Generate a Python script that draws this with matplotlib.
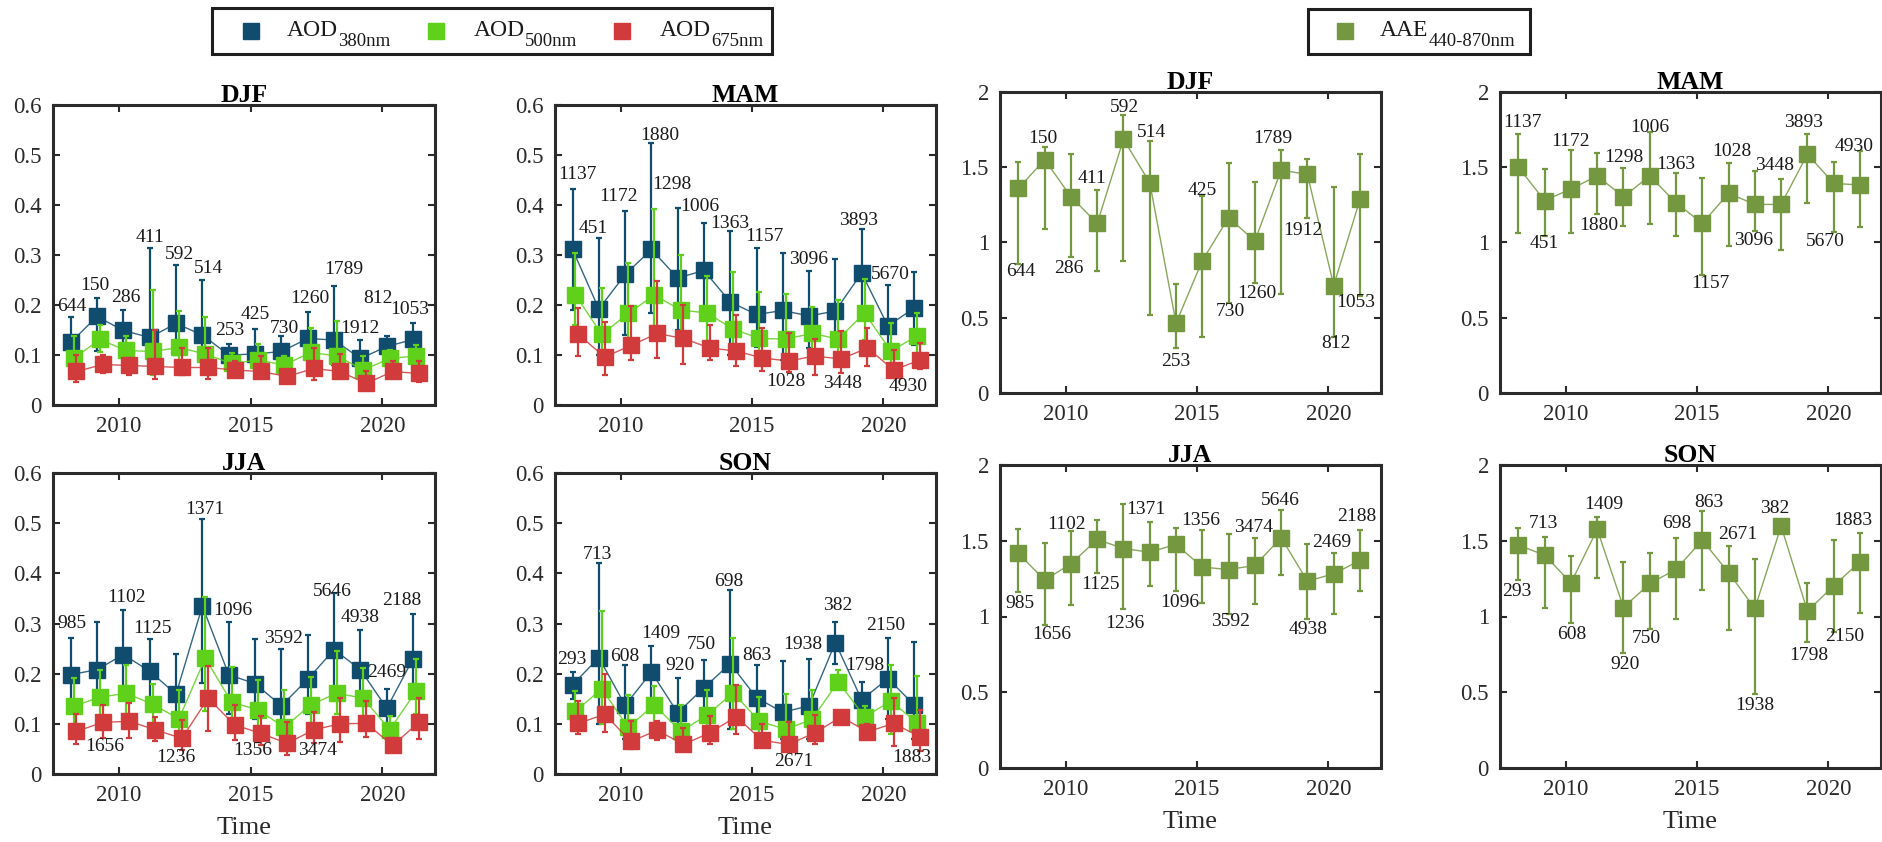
import numpy as np
import matplotlib
matplotlib.use('Agg')
import matplotlib.pyplot as plt
from matplotlib.lines import Line2D
from matplotlib.patches import Rectangle
from matplotlib.ticker import FormatStrFormatter, MultipleLocator

plt.rcParams['font.family'] = ['Liberation Serif', 'DejaVu Serif']

years = np.arange(2008, 2022)
seasons = ['DJF', 'MAM', 'JJA', 'SON']

# number of observations behind each seasonal mean
n_djf = [644, 150, 286, 411, 592, 514, 253, 425, 730, 1260, 1789, 1912, 812, 1053]
n_mam = [1137, 451, 1172, 1880, 1298, 1006, 1363, 1157, 1028, 3096, 3448, 3893, 5670, 4930]
n_jja = [985, 1656, 1102, 1125, 1236, 1371, 1096, 1356, 3592, 3474, 5646, 4938, 2469, 2188]
n_son = [293, 713, 608, 1409, 920, 750, 698, 863, 2671, 1938, 382, 1798, 2150, 1883]

# AOD means with lower / upper ends of the bars
djf_380 = [0.125, 0.177, 0.149, 0.135, 0.163, 0.140, 0.100, 0.102, 0.107, 0.133, 0.130, 0.093, 0.117, 0.131]
djf_380_hi = [0.175, 0.213, 0.190, 0.313, 0.280, 0.250, 0.121, 0.151, 0.137, 0.185, 0.237, 0.129, 0.137, 0.163]
djf_380_lo = [0.090, 0.107, 0.115, 0.080, 0.100, 0.090, 0.085, 0.080, 0.090, 0.100, 0.080, 0.070, 0.100, 0.100]
djf_500 = [0.093, 0.131, 0.109, 0.107, 0.115, 0.102, 0.083, 0.090, 0.080, 0.105, 0.098, 0.070, 0.093, 0.098]
djf_500_hi = [0.137, 0.160, 0.138, 0.229, 0.187, 0.175, 0.103, 0.121, 0.098, 0.153, 0.167, 0.097, 0.110, 0.120]
djf_500_lo = [0.070, 0.105, 0.090, 0.060, 0.080, 0.070, 0.070, 0.070, 0.065, 0.070, 0.070, 0.055, 0.080, 0.070]
djf_675 = [0.067, 0.081, 0.079, 0.077, 0.075, 0.075, 0.070, 0.067, 0.057, 0.073, 0.067, 0.043, 0.067, 0.063]
djf_675_hi = [0.100, 0.100, 0.093, 0.150, 0.113, 0.113, 0.087, 0.098, 0.070, 0.113, 0.102, 0.068, 0.087, 0.087]
djf_675_lo = [0.045, 0.063, 0.060, 0.051, 0.060, 0.052, 0.057, 0.055, 0.050, 0.050, 0.057, 0.033, 0.057, 0.045]

mam_380 = [0.311, 0.192, 0.261, 0.311, 0.254, 0.269, 0.206, 0.181, 0.189, 0.178, 0.188, 0.264, 0.158, 0.194]
mam_380_hi = [0.432, 0.333, 0.387, 0.524, 0.393, 0.364, 0.347, 0.314, 0.304, 0.267, 0.292, 0.351, 0.240, 0.266]
mam_380_lo = [0.190, 0.100, 0.140, 0.184, 0.150, 0.170, 0.100, 0.116, 0.090, 0.113, 0.120, 0.180, 0.100, 0.120]
mam_500 = [0.220, 0.141, 0.183, 0.220, 0.190, 0.184, 0.152, 0.133, 0.132, 0.143, 0.132, 0.184, 0.108, 0.138]
mam_500_hi = [0.303, 0.233, 0.283, 0.391, 0.299, 0.257, 0.265, 0.226, 0.221, 0.196, 0.210, 0.251, 0.164, 0.184]
mam_500_lo = [0.160, 0.100, 0.120, 0.130, 0.120, 0.120, 0.110, 0.100, 0.090, 0.100, 0.100, 0.130, 0.080, 0.100]
mam_675 = [0.141, 0.096, 0.119, 0.143, 0.133, 0.114, 0.108, 0.094, 0.088, 0.098, 0.092, 0.114, 0.070, 0.090]
mam_675_hi = [0.193, 0.166, 0.198, 0.248, 0.199, 0.160, 0.180, 0.154, 0.143, 0.132, 0.148, 0.154, 0.109, 0.123]
mam_675_lo = [0.098, 0.060, 0.090, 0.094, 0.081, 0.090, 0.078, 0.067, 0.065, 0.060, 0.063, 0.078, 0.058, 0.071]

jja_380 = [0.198, 0.208, 0.238, 0.205, 0.159, 0.335, 0.198, 0.180, 0.136, 0.189, 0.248, 0.208, 0.131, 0.230]
jja_380_hi = [0.271, 0.303, 0.326, 0.269, 0.239, 0.509, 0.303, 0.270, 0.250, 0.277, 0.360, 0.288, 0.169, 0.319]
jja_380_lo = [0.140, 0.140, 0.170, 0.150, 0.100, 0.181, 0.120, 0.110, 0.080, 0.120, 0.155, 0.140, 0.100, 0.160]
jja_500 = [0.135, 0.153, 0.161, 0.139, 0.110, 0.231, 0.143, 0.128, 0.093, 0.138, 0.161, 0.151, 0.088, 0.165]
jja_500_hi = [0.191, 0.208, 0.218, 0.180, 0.168, 0.353, 0.213, 0.187, 0.168, 0.193, 0.246, 0.211, 0.115, 0.229]
jja_500_lo = [0.100, 0.110, 0.120, 0.100, 0.070, 0.125, 0.100, 0.090, 0.060, 0.100, 0.120, 0.110, 0.065, 0.120]
jja_675 = [0.085, 0.103, 0.105, 0.088, 0.071, 0.151, 0.098, 0.081, 0.061, 0.088, 0.100, 0.101, 0.057, 0.103]
jja_675_hi = [0.120, 0.138, 0.141, 0.113, 0.107, 0.215, 0.138, 0.116, 0.103, 0.123, 0.151, 0.145, 0.071, 0.151]
jja_675_lo = [0.060, 0.071, 0.071, 0.066, 0.048, 0.085, 0.067, 0.058, 0.037, 0.061, 0.063, 0.073, 0.045, 0.069]

son_380 = [0.178, 0.232, 0.137, 0.203, 0.122, 0.172, 0.220, 0.152, 0.123, 0.136, 0.262, 0.148, 0.190, 0.138]
son_380_hi = [0.204, 0.420, 0.218, 0.255, 0.192, 0.228, 0.366, 0.217, 0.226, 0.230, 0.303, 0.184, 0.272, 0.264]
son_380_lo = [0.150, 0.100, 0.070, 0.150, 0.070, 0.120, 0.090, 0.090, 0.070, 0.070, 0.220, 0.128, 0.110, 0.070]
son_500 = [0.125, 0.170, 0.093, 0.138, 0.085, 0.117, 0.162, 0.105, 0.089, 0.109, 0.184, 0.114, 0.145, 0.102]
son_500_hi = [0.165, 0.325, 0.157, 0.175, 0.138, 0.168, 0.272, 0.153, 0.160, 0.168, 0.208, 0.136, 0.218, 0.195]
son_500_lo = [0.090, 0.100, 0.060, 0.100, 0.060, 0.080, 0.090, 0.070, 0.062, 0.070, 0.170, 0.090, 0.080, 0.060]
son_675 = [0.101, 0.119, 0.065, 0.087, 0.059, 0.082, 0.114, 0.067, 0.059, 0.082, 0.114, 0.084, 0.101, 0.074]
son_675_hi = [0.145, 0.200, 0.105, 0.105, 0.091, 0.115, 0.178, 0.099, 0.104, 0.117, 0.115, 0.099, 0.152, 0.128]
son_675_lo = [0.080, 0.084, 0.049, 0.067, 0.045, 0.060, 0.080, 0.053, 0.043, 0.060, 0.113, 0.070, 0.055, 0.045]

# AAE 440-870 nm
djf_aae = [1.359, 1.551, 1.304, 1.127, 1.686, 1.397, 0.464, 0.880, 1.165, 1.010, 1.481, 1.452, 0.714, 1.286]
djf_aae_hi = [1.536, 1.635, 1.587, 1.352, 1.845, 1.673, 0.723, 1.308, 1.531, 1.403, 1.613, 1.558, 1.370, 1.587]
djf_aae_lo = [0.855, 1.090, 0.906, 0.813, 0.880, 0.515, 0.298, 0.371, 0.597, 0.729, 0.659, 1.160, 0.369, 0.645]
mam_aae = [1.500, 1.278, 1.356, 1.442, 1.304, 1.442, 1.264, 1.127, 1.327, 1.253, 1.253, 1.587, 1.393, 1.382]
mam_aae_hi = [1.722, 1.487, 1.616, 1.593, 1.498, 1.731, 1.464, 1.431, 1.527, 1.476, 1.420, 1.720, 1.538, 1.611]
mam_aae_lo = [1.064, 1.044, 1.064, 1.189, 1.111, 1.122, 1.044, 0.787, 0.978, 1.076, 0.953, 1.260, 1.067, 1.100]
jja_aae = [1.417, 1.240, 1.348, 1.509, 1.448, 1.425, 1.476, 1.326, 1.310, 1.337, 1.520, 1.233, 1.282, 1.370]
jja_aae_hi = [1.576, 1.483, 1.565, 1.638, 1.741, 1.627, 1.582, 1.571, 1.543, 1.516, 1.702, 1.476, 1.421, 1.571]
jja_aae_lo = [1.160, 0.946, 1.078, 1.284, 1.050, 1.204, 1.171, 1.090, 1.017, 1.085, 1.271, 0.986, 1.019, 1.167]
son_aae = [1.471, 1.405, 1.222, 1.575, 1.059, 1.218, 1.311, 1.504, 1.289, 1.053, 1.597, 1.035, 1.203, 1.361]
son_aae_hi = [1.586, 1.526, 1.401, 1.659, 1.361, 1.421, 1.515, 1.696, 1.467, 1.379, 1.600, 1.222, 1.504, 1.553]
son_aae_lo = [1.240, 1.053, 0.960, 1.256, 0.760, 0.916, 0.982, 1.178, 0.910, 0.487, 1.594, 0.833, 0.899, 1.026]

counts = {'DJF': n_djf, 'MAM': n_mam, 'JJA': n_jja, 'SON': n_son}
aod = {
    'DJF': [(djf_380, djf_380_lo, djf_380_hi), (djf_500, djf_500_lo, djf_500_hi), (djf_675, djf_675_lo, djf_675_hi)],
    'MAM': [(mam_380, mam_380_lo, mam_380_hi), (mam_500, mam_500_lo, mam_500_hi), (mam_675, mam_675_lo, mam_675_hi)],
    'JJA': [(jja_380, jja_380_lo, jja_380_hi), (jja_500, jja_500_lo, jja_500_hi), (jja_675, jja_675_lo, jja_675_hi)],
    'SON': [(son_380, son_380_lo, son_380_hi), (son_500, son_500_lo, son_500_hi), (son_675, son_675_lo, son_675_hi)],
}
aae = {
    'DJF': (djf_aae, djf_aae_lo, djf_aae_hi),
    'MAM': (mam_aae, mam_aae_lo, mam_aae_hi),
    'JJA': (jja_aae, jja_aae_lo, jja_aae_hi),
    'SON': (son_aae, son_aae_lo, son_aae_hi),
}

# count label placement: 'u' above the top bar, 'd' below the bottom bar, x shift px, gap px
lab_aod = {
    'DJF': [('u', 1, 11), ('u', -2, 13), ('u', 2, 12), ('u', 0, 11), ('u', 3, 10), ('u', 6, 11), ('u', 1, 14),
            ('u', 0, 15), ('u', 3, 8), ('u', 2, 14), ('u', 10, 17), ('u', -1, 12), ('u', -9, 38), ('u', -3, 14)],
    'MAM': [('u', 5, 14), ('u', -6, 10), ('u', -7, 15), ('u', 8, 7), ('u', -6, 24), ('u', -4, 16), ('u', 0, 8),
            ('u', 8, 11), ('d', 3, 9), ('u', -1, 12), ('d', 7, 10), ('u', -3, 9), ('u', 2, 10), ('d', -6, 17)],
    'JJA': [('u', 1, 15), ('d', 8, 8), ('u', 3, 13), ('u', 3, 11), ('d', 0, 8), ('u', 2, 9), ('u', 4, 11),
            ('d', -2, 6), ('u', 2, 10), ('d', 10, 7), ('u', -2, 2), ('u', 0, 12), ('u', 0, 17), ('u', -11, 13)],
    'SON': [('u', -1, 12), ('u', -1, 9), ('u', 0, 8), ('u', 9, 13), ('u', 2, 12), ('u', -3, 15), ('u', -2, 9),
            ('u', 0, 10), ('d', 11, 9), ('u', -6, 14), ('u', 2, 16), ('u', 3, 16), ('u', -2, 12), ('d', -2, 6)],
}
lab_aae = {
    'DJF': [('d', 2, 7), ('u', -2, 8), ('d', -2, 12), ('u', -5, 11), ('u', 1, 8), ('u', 2, 9), ('d', 0, 13),
            ('u', 0, 6), ('d', 2, 8), ('d', 2, 10), ('u', -8, 12), ('d', -5, 12), ('d', 2, 6), ('d', -4, 7)],
    'MAM': [('u', 4, 11), ('d', 0, 8), ('u', 0, 8), ('d', 2, 11), ('u', 0, 10), ('u', 0, 5), ('u', 0, 8),
            ('d', 8, 9), ('u', 3, 12), ('d', -1, 9), ('u', -7, 14), ('u', -4, 12), ('d', -8, 9), ('u', -6, 4)],
    'JJA': [('d', 2, 11), ('d', 7, 10), ('u', -4, 6), ('d', 3, 11), ('d', 1, 15), ('u', -4, 12), ('d', 4, 12),
            ('u', -2, 9), ('d', 2, 8), ('u', -1, 11), ('u', -1, 10), ('d', 1, 11), ('u', -2, 10), ('u', -3, 13)],
    'SON': [('d', -2, 11), ('u', -1, 13), ('d', 1, 12), ('u', 7, 12), ('d', 2, 12), ('d', -3, 9), ('u', 1, 15),
            ('u', 7, 9), ('u', 9, 11), ('d', 0, 11), ('u', -6, 17), ('d', 1, 14), ('d', 11, 5), ('u', -7, 12)],
}

aod_colors = ['#0f4c6e', '#5fd11b', '#d13b3b']
aod_subs = ['380nm', '500nm', '675nm']
aod_shift = [0.17, 0.28, 0.39]
aae_color = '#73983f'
aae_shift = 0.2

W, H = 1883, 842
fig = plt.figure(figsize=(W / 100, H / 100), dpi=100)

# panel boxes in pixels: left, top, right, bottom
aod_boxes = {'DJF': (53, 105, 435, 405), 'MAM': (555, 105, 936, 405),
             'JJA': (53, 473, 435, 774), 'SON': (555, 473, 936, 774)}
aae_boxes = {'DJF': (1000, 92, 1381, 393), 'MAM': (1500, 92, 1881, 393),
             'JJA': (1000, 465, 1381, 768), 'SON': (1500, 465, 1881, 768)}


def fx(px):
    return px / W


def fy(py):
    return 1 - py / H


def make_axes(box):
    l, t, r, b = box
    return fig.add_axes([fx(l), fy(b), (r - l) / W, (b - t) / H])


def style_axes(ax, season, ymax, ystep):
    ax.set_xlim(2007.5, 2022)
    ax.set_ylim(0, ymax)
    ax.set_xticks([2010, 2015, 2020])
    ax.yaxis.set_major_locator(MultipleLocator(ystep))
    ax.yaxis.set_major_formatter(FormatStrFormatter('%g'))
    ax.tick_params(direction='in', top=True, right=True, length=5, width=1.5,
                   labelsize=16.5, colors='#2a2a2a', pad=8)
    for sp in ax.spines.values():
        sp.set_linewidth(2.2)
        sp.set_color('#2b2b2b')
    ax.set_title(season, fontsize=18.5, fontweight='bold', pad=2)
    if season in ('JJA', 'SON'):
        ax.set_xlabel('Time', fontsize=19, labelpad=8, color='#2a2a2a')


def draw_series(ax, x, mean, lo, hi, color, z):
    mean = np.array(mean)
    err = [mean - np.array(lo), np.array(hi) - mean]
    ax.plot(x, mean, color=color, lw=1.0, alpha=0.85, zorder=z)
    ax.errorbar(x, mean, yerr=err, fmt='s', color=color, ms=11, mec=color,
                elinewidth=1.6, capsize=2, capthick=1.6, zorder=z + 0.5)


def put_labels(ax, x, top, bottom, labels, layout):
    for xi, t, b, n, (side, dx, gap) in zip(x, top, bottom, labels, layout):
        y = t if side == 'u' else b
        dy = gap if side == 'u' else -gap
        ax.annotate(str(n), (xi, y), xytext=(dx, dy), textcoords='offset pixels',
                    ha='center', va='center', fontsize=14, color='#1a1a1a', zorder=20)


for s in seasons:
    ax = make_axes(aod_boxes[s])
    for i, (mean, lo, hi) in enumerate(aod[s]):
        draw_series(ax, years + aod_shift[i], mean, lo, hi, aod_colors[i], 3 + i)
    style_axes(ax, s, 0.6, 0.1)
    put_labels(ax, years + aod_shift[0], aod[s][0][2], aod[s][2][1], counts[s], lab_aod[s])

    ax = make_axes(aae_boxes[s])
    mean, lo, hi = aae[s]
    draw_series(ax, years + aae_shift, mean, lo, hi, aae_color, 3)
    style_axes(ax, s, 2, 0.5)
    put_labels(ax, years + aae_shift, hi, lo, counts[s], lab_aae[s])

# legend boxes drawn by hand so the subscripts can keep their own size
renderer = fig.canvas.get_renderer()


def legend_entry(mx, tx, color, main, sub):
    fig.add_artist(Line2D([fx(mx)], [fy(31)], transform=fig.transFigure, ls='none',
                          marker='s', ms=11, color=color))
    t = fig.text(fx(tx), fy(36), main, fontsize=17, va='baseline', color='#1a1a1a')
    bb = t.get_window_extent(renderer)
    fig.text(bb.x1 / W, fy(46), sub, fontsize=13.5, va='baseline', color='#1a1a1a')


def legend_frame(l, t, r, b):
    fig.add_artist(Rectangle((fx(l), fy(b)), (r - l) / W, (b - t) / H, transform=fig.transFigure,
                             fill=False, lw=2.2, ec='#1f1f1f'))


legend_frame(212, 8, 772, 54)
for mx, tx, c, sub in zip([251, 436, 622], [287, 474, 660], aod_colors, aod_subs):
    legend_entry(mx, tx, c, 'AOD', sub)

legend_frame(1308, 9, 1530, 54)
legend_entry(1345, 1380, aae_color, 'AAE', '440-870nm')

fig.savefig('out.png', dpi=100)
